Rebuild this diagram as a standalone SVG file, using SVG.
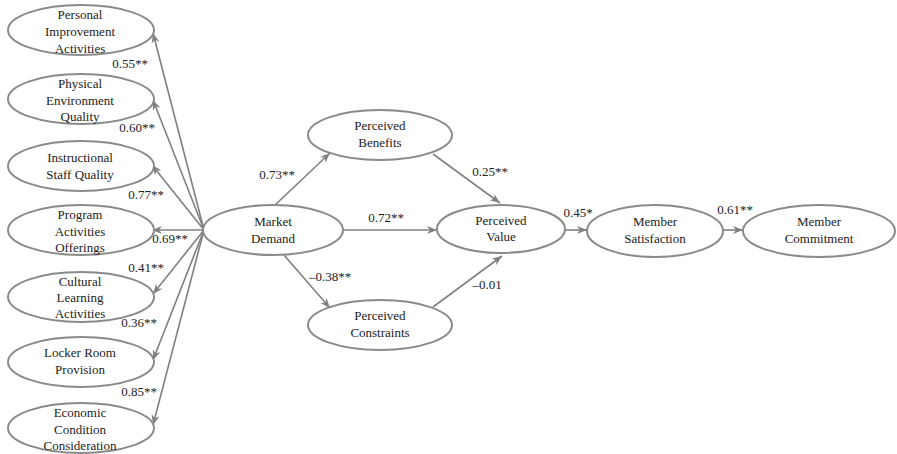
<svg xmlns="http://www.w3.org/2000/svg" width="897" height="454" viewBox="0 0 897 454" font-family="'Liberation Serif', 'DejaVu Serif', 'Times New Roman', serif">
<style>
.n ellipse{fill:#fff;stroke:#8a8a8a;stroke-width:2}
text{font-family:'Liberation Serif','DejaVu Serif','Times New Roman',serif;font-size:13px;fill:#222;text-anchor:middle}
.e line{stroke:#808080;stroke-width:1.6;marker-end:url(#ah)}
</style>
<defs>
<marker id="ah" markerUnits="userSpaceOnUse" markerWidth="12" markerHeight="10" refX="10" refY="4" orient="auto">
<path d="M0,0 L10,4 L0,8 L3,4 z" fill="#808080"/>
</marker>
</defs>
<rect width="897" height="454" fill="#fff"/>
<g id="edges" class="e">
<line x1="204" y1="230" x2="153" y2="33"/>
<line x1="204" y1="230" x2="153" y2="100"/>
<line x1="204" y1="230" x2="152" y2="165"/>
<line x1="204" y1="230" x2="152" y2="230"/>
<line x1="204" y1="230" x2="153" y2="294"/>
<line x1="204" y1="230" x2="153" y2="360"/>
<line x1="204" y1="230" x2="153" y2="425"/>
<line x1="275" y1="205" x2="330" y2="153"/>
<line x1="343" y1="230" x2="437" y2="230"/>
<line x1="283" y1="254" x2="330" y2="308"/>
<line x1="433" y1="154" x2="500" y2="203"/>
<line x1="433" y1="307" x2="502" y2="256"/>
<line x1="565" y1="230" x2="587" y2="230"/>
<line x1="723" y1="230" x2="743" y2="230"/>
</g>
<g id="labels">
<text x="130" y="68">0.55**</text>
<text x="137" y="132">0.60**</text>
<text x="146" y="199">0.77**</text>
<text x="170" y="243">0.69**</text>
<text x="146" y="272">0.41**</text>
<text x="139" y="327">0.36**</text>
<text x="139" y="396">0.85**</text>
<text x="277" y="179">0.73**</text>
<text x="386" y="222">0.72**</text>
<text x="330" y="281">–0.38**</text>
<text x="490" y="176">0.25**</text>
<text x="487" y="289">–0.01</text>
<text x="578" y="217">0.45*</text>
<text x="735" y="214">0.61**</text>
</g>
<g id="n1" class="n"><ellipse cx="81" cy="30" rx="73" ry="25"/><text x="80" y="19">Personal</text><text x="80" y="36">Improvement</text><text x="80" y="53">Activities</text></g>
<g id="n2" class="n"><ellipse cx="81" cy="99" rx="73" ry="25"/><text x="80" y="88">Physical</text><text x="80" y="105">Environment</text><text x="80" y="121">Quality</text></g>
<g id="n3" class="n"><ellipse cx="81" cy="166" rx="73" ry="25"/><text x="80" y="162">Instructional</text><text x="80" y="179">Staff Quality</text></g>
<g id="n4" class="n"><ellipse cx="81" cy="230" rx="73" ry="25"/><text x="80" y="219">Program</text><text x="80" y="236">Activities</text><text x="80" y="252">Offerings</text></g>
<g id="n5" class="n"><ellipse cx="81" cy="297" rx="73" ry="25"/><text x="80" y="286">Cultural</text><text x="80" y="302">Learning</text><text x="80" y="318">Activities</text></g>
<g id="n6" class="n"><ellipse cx="81" cy="362" rx="73" ry="25"/><text x="80" y="357">Locker Room</text><text x="80" y="374">Provision</text></g>
<g id="n7" class="n"><ellipse cx="81" cy="428" rx="73" ry="25"/><text x="80" y="417">Economic</text><text x="80" y="434">Condition</text><text x="80" y="450">Consideration</text></g>
<g id="md" class="n"><ellipse cx="273" cy="230" rx="70" ry="25"/><text x="273" y="226">Market</text><text x="273" y="243">Demand</text></g>
<g id="pb" class="n"><ellipse cx="380" cy="135" rx="72" ry="25"/><text x="380" y="130">Perceived</text><text x="380" y="147">Benefits</text></g>
<g id="pv" class="n"><ellipse cx="501" cy="229" rx="64" ry="24"/><text x="501" y="225">Perceived</text><text x="501" y="241">Value</text></g>
<g id="pc" class="n"><ellipse cx="380" cy="325" rx="72" ry="25"/><text x="380" y="320">Perceived</text><text x="380" y="337">Constraints</text></g>
<g id="ms" class="n"><ellipse cx="655" cy="231" rx="68" ry="26"/><text x="655" y="226">Member</text><text x="655" y="243">Satisfaction</text></g>
<g id="mc" class="n"><ellipse cx="819" cy="231" rx="76" ry="26"/><text x="819" y="226">Member</text><text x="819" y="243">Commitment</text></g>
</svg>
